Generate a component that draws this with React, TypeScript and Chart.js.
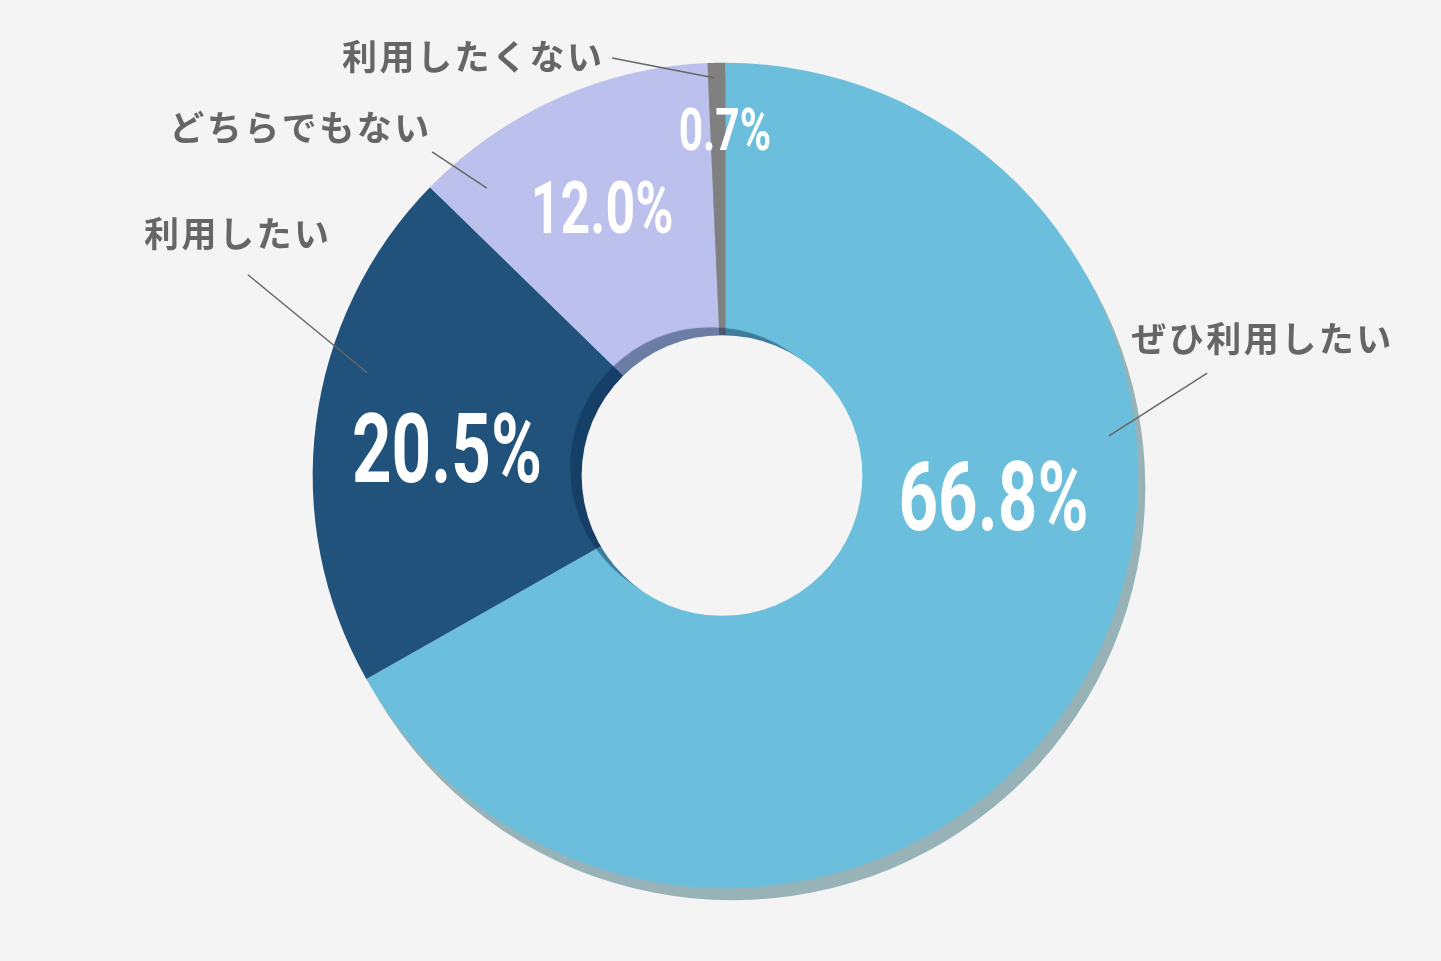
import { useEffect, useRef } from "react";
import { Chart, registerables } from "chart.js";

Chart.register(...registerables);

// Survey answers, clockwise from 12 o'clock
const CATEGORIES = ["ぜひ利用したい", "利用したい", "どちらでもない", "利用したくない"];
const SHARES = [66.8, 20.5, 12.0, 0.7];
const SHARE_LABELS = ["66.8%", "20.5%", "12.0%", "0.7%"];
const COLORS = ["#6cbfdc", "#20527c", "#bbc1ec", "#808080"];

// value label placement: degrees clockwise from top, fraction of outer radius, font px
const VALUE_LAYOUT = [
  { angle: 94.4, r: 0.651, size: 96 },
  { angle: 275.6, r: 0.678, size: 96 },
  { angle: 335.3, r: 0.715, size: 72 },
  { angle: 359.9, r: 0.839, size: 59 },
];

// leader line (inner -> outer point, polar) and category text offset from the outer point
const CALLOUTS = [
  { a1: 84.1, r1: 0.934, a2: 78.0, r2: 1.193, dx: 54, dy: -34 },
  { a1: 286.0, r1: 0.903, a2: 292.8, r2: 1.255, dx: -11.5, dy: -41.5 },
  { a1: 320.3, r1: 0.905, a2: 317.8, r2: 1.058, dx: -133, dy: -24.5 },
  { a1: 358.5, r1: 0.963, a2: 344.8, r2: 1.048, dx: -140, dy: -1.5 },
];

const BG = "#f4f4f4";

const polar = (cx: number, cy: number, R: number, deg: number, frac: number) => {
  const t = (deg * Math.PI) / 180;
  return { x: cx + R * frac * Math.sin(t), y: cy - R * frac * Math.cos(t) };
};

const getArc = (chart: any) => {
  const arc = chart.getDatasetMeta(0).data[0];
  return arc.getProps(["x", "y", "outerRadius"], true) as { x: number; y: number; outerRadius: number };
};

const decorPlugin = {
  id: "decor",
  beforeDatasetsDraw(chart: any) {
    const ctx = chart.ctx;
    const { x, y, outerRadius } = getArc(chart);
    // drop shadow under the ring
    ctx.save();
    ctx.fillStyle = "#97b3b8";
    ctx.beginPath();
    ctx.arc(x + 7, y + 12, outerRadius, 0, Math.PI * 2);
    ctx.fill();
    ctx.restore();
  },
  afterDatasetsDraw(chart: any) {
    const ctx = chart.ctx;
    const dpr = chart.currentDevicePixelRatio || 1;
    const { x, y, outerRadius } = getArc(chart);

    // centre hole with its shadow cast up-left onto the ring
    ctx.save();
    ctx.shadowColor = "rgba(10, 40, 80, 0.45)";
    ctx.shadowOffsetX = -11.5 * dpr;
    ctx.shadowOffsetY = -8 * dpr;
    ctx.shadowBlur = 1;
    ctx.fillStyle = BG;
    ctx.beginPath();
    ctx.arc(x - 3.5, y, outerRadius * 0.34, 0, Math.PI * 2);
    ctx.fill();
    ctx.restore();

    // value labels (condensed look)
    SHARE_LABELS.forEach((txt, i) => {
      const l = VALUE_LAYOUT[i];
      const p = polar(x, y, outerRadius, l.angle, l.r);
      ctx.save();
      ctx.translate(p.x, p.y);
      ctx.scale(0.72, 1);
      ctx.font = `bold ${l.size}px Roboto`;
      ctx.fillStyle = "#ffffff";
      ctx.textAlign = "center";
      ctx.textBaseline = "alphabetic";
      ctx.fillText(txt, 0, (l.size * 0.711) / 2);
      ctx.restore();
    });

    // leader lines and category names
    CATEGORIES.forEach((name, i) => {
      const c = CALLOUTS[i];
      const p1 = polar(x, y, outerRadius, c.a1, c.r1);
      const p2 = polar(x, y, outerRadius, c.a2, c.r2);
      ctx.save();
      ctx.strokeStyle = "#666666";
      ctx.lineWidth = 1.5;
      ctx.beginPath();
      ctx.moveTo(p1.x, p1.y);
      ctx.lineTo(p2.x, p2.y);
      ctx.stroke();

      ctx.font = `bold 35px "Noto Sans CJK JP"`;
      (ctx as any).letterSpacing = "2.5px";
      ctx.fillStyle = "#666666";
      ctx.textAlign = "center";
      ctx.textBaseline = "middle";
      ctx.fillText(name, p2.x + c.dx + 1.25, p2.y + c.dy);
      ctx.restore();
    });
  },
};

export default function App() {
  const canvasRef = useRef<HTMLCanvasElement>(null);
  const chartRef = useRef<Chart | null>(null);

  useEffect(() => {
    if (!canvasRef.current) return;
    if (chartRef.current) chartRef.current.destroy();

    chartRef.current = new Chart(canvasRef.current, {
      type: "doughnut",
      data: {
        labels: CATEGORIES,
        datasets: [
          {
            data: SHARES,
            backgroundColor: COLORS,
            borderWidth: 0,
          },
        ],
      },
      options: {
        responsive: true,
        maintainAspectRatio: false,
        animation: false,
        events: [],
        cutout: "30%",
        rotation: 0,
        layout: {
          padding: { top: 62.7, bottom: 72.7, left: 312.7, right: 302.7 },
        },
        plugins: {
          legend: { display: false },
          tooltip: { enabled: false },
        },
      },
      plugins: [decorPlugin],
    });

    return () => {
      if (chartRef.current) {
        chartRef.current.destroy();
        chartRef.current = null;
      }
    };
  }, []);

  return (
    <div style={{ position: "fixed", inset: 0, background: BG }}>
      <canvas ref={canvasRef} />
    </div>
  );
}
